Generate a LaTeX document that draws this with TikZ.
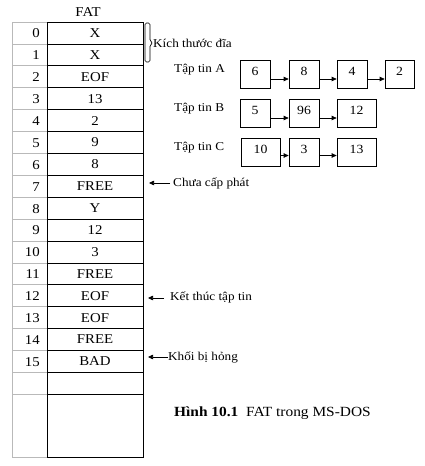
\documentclass[tikz,border=0pt]{standalone}
\usepackage{fontspec}
\setmainfont{Liberation Serif}[FakeStretch=1.1]
\usetikzlibrary{arrows.meta}
\definecolor{gridgray}{RGB}{185,185,185}
\begin{document}
\begin{tikzpicture}[x=1pt,y=-1pt,
  cell/.style={draw=black, line width=0.7pt, minimum width=96pt, minimum height=21.9pt, inner sep=0pt, font=\fontsize{13.5}{15}\selectfont},
  idxnum/.style={anchor=east, inner sep=0pt, font=\fontsize{13.5}{15}\selectfont},
  fbox/.style={draw=black, line width=0.7pt, minimum height=28pt, inner sep=0pt, text depth=6pt, font=\fontsize{12.5}{14}\selectfont},
  lbl/.style={anchor=west, inner sep=0pt, font=\fontsize{12}{14}\selectfont},
  arr/.style={-{Triangle[length=5pt,width=4.5pt]}, line width=0.7pt},
  gline/.style={draw=gridgray, line width=0.7pt},
  bline/.style={line width=0.7pt}]
\useasboundingbox (0,0) rectangle (424,466);
\fill[white] (0,0) rectangle (424,466);

% index column grid (gray)
\draw[gline] (12,22) -- (12,457);
\foreach \k in {0,...,17}{
  \draw[gline] (12,{22+21.9*\k}) -- (47,{22+21.9*\k});
}
\draw[gline] (12,457) -- (47,457);

% FAT title
\node[font=\fontsize{13.5}{15}\selectfont, inner sep=0pt] (fattitle) at (88,12) {FAT};

% FAT cells
\foreach \t [count=\i from 0] in {X,X,EOF,13,2,9,8,FREE,Y,12,3,FREE,EOF,EOF,FREE,BAD,{}}{
  \node[cell] (f\i) at (95,{22+21.9*(\i+0.5)}) {\t};
}
\node[cell, minimum height=62.7pt] (fend) at (95,425.65) {};

% index numbers
\foreach \i in {0,...,15}{
  \node[idxnum] (n\i) at (40,{22+21.9*(\i+0.5)+0.5}) {\i};
}

% bracket for disk size
\draw[bline, rounded corners=1.5pt] (145,23) -- (150,23) -- (150,41) -- (153,43) -- (150,45) -- (150,62) -- (145,62) -- cycle;
\node[lbl] (kich) at (153,43) {Kích thước đĩa};

% files
\node[lbl] (ta) at (174,70) {Tập tin A};
\node[lbl] (tb) at (174,109) {Tập tin B};
\node[lbl] (tc) at (174,148) {Tập tin C};

\node[fbox, minimum width=30pt] (a1) at (255,74) {6};
\node[fbox, minimum width=30pt] (a2) at (304,74) {8};
\node[fbox, minimum width=30pt] (a3) at (352,74) {4};
\node[fbox, minimum width=29pt] (a4) at (399.5,74) {2};

\node[fbox, minimum width=30pt] (b1) at (255,113.5) {5};
\node[fbox, minimum width=30pt] (b2) at (304,113.5) {96};
\node[fbox, minimum width=39pt] (b3) at (356.5,113.5) {12};

\node[fbox, minimum width=39pt] (c1) at (260.5,152.5) {10};
\node[fbox, minimum width=30pt] (c2) at (304,152.5) {3};
\node[fbox, minimum width=39pt] (c3) at (356.5,152.5) {13};

\draw[arr] ([yshift=-5pt]a1.east) -- ([yshift=-5pt]a2.west);
\draw[arr] ([yshift=-5pt]a2.east) -- ([yshift=-5pt]a3.west);
\draw[arr] ([yshift=-5pt]a3.east) -- ([yshift=-5pt]a4.west);
\draw[arr] ([yshift=-4.5pt]b1.east) -- ([yshift=-4.5pt]b2.west);
\draw[arr] ([yshift=-4.5pt]b2.east) -- ([yshift=-4.5pt]b3.west);
\draw[arr] ([yshift=-3pt]c1.east) -- ([yshift=-3pt]c2.west);
\draw[arr] ([yshift=-3pt]c2.east) -- ([yshift=-3pt]c3.west);

% side annotations
\node[lbl] (chua) at (173,183) {Chưa cấp phát};
\coordinate (t7) at (149,183);
\draw[arr] ([xshift=-3pt]chua.west) -- (t7);

\node[lbl] (ket) at (170,297) {Kết thúc tập tin};
\coordinate (t12) at (148,298);
\draw[arr] ([xshift=-6pt,yshift=-1pt]ket.west) -- (t12);

\node[lbl] (khoi) at (168,357) {Khối bị hỏng};
\coordinate (t15) at (148,357);
\draw[arr] (khoi.west) -- (t15);

% caption
\node[anchor=west, inner sep=0pt, font=\fontsize{14}{16}\selectfont] (cap) at (174,413) {\textbf{Hình 10.1}\ \ FAT trong MS-DOS};
\end{tikzpicture}
\end{document}
